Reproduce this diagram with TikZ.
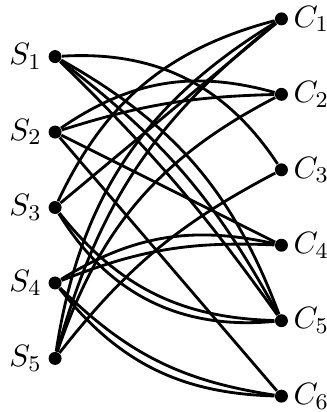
\documentclass[tikz,border=0pt]{standalone}
\usepackage{amsmath}
\usepackage{tikz}

\begin{document}
\begin{tikzpicture}[
  x=0.47cm, y=0.47cm,
  dot/.style={circle, fill=black, inner sep=0pt, minimum size=4.6pt},
  slabel/.style={anchor=east, inner sep=2pt, font=\fontsize{11}{13}\selectfont},
  clabel/.style={anchor=west, inner sep=1.6pt, font=\fontsize{11}{13}\selectfont},
  edge/.style={line width=1pt},
]

\useasboundingbox (-1.46, 0.50) rectangle (7.19, -10.42);

% left side
\node[dot] (s1) at (0, -1) {};
\node[dot] (s2) at (0, -3) {};
\node[dot] (s3) at (0, -5) {};
\node[dot] (s4) at (0, -7) {};
\node[dot] (s5) at (0, -9) {};

% right side
\node[dot] (c1) at (6, 0) {};
\node[dot] (c2) at (6, -2) {};
\node[dot] (c3) at (6, -4) {};
\node[dot] (c4) at (6, -6) {};
\node[dot] (c5) at (6, -8) {};
\node[dot] (c6) at (6, -10) {};

\node[slabel] (ls1) at (s1.west) {$S_1$};
\node[slabel] (ls2) at (s2.west) {$S_2$};
\node[slabel] (ls3) at (s3.west) {$S_3$};
\node[slabel] (ls4) at (s4.west) {$S_4$};
\node[slabel] (ls5) at (s5.west) {$S_5$};

\node[clabel] (lc1) at (c1.east) {$C_1$};
\node[clabel] (lc2) at (c2.east) {$C_2$};
\node[clabel] (lc3) at (c3.east) {$C_3$};
\node[clabel] (lc4) at (c4.east) {$C_4$};
\node[clabel] (lc5) at (c5.east) {$C_5$};
\node[clabel] (lc6) at (c6.east) {$C_6$};

\draw[edge] (s1) to[bend left=30] (c3);
\draw[edge] (s1) to[bend left=5] (c5);
\draw[edge] (s1) to[bend left=12] (c5);
\draw[edge] (s1) to[bend left=20] (c5);
\draw[edge] (s2) to[bend left=25] (c2);
\draw[edge] (s2) to[bend left=8] (c2);
\draw[edge] (s2) -- (c4);
\draw[edge] (s2) -- (c6);
\draw[edge] (s3) to[bend left=25] (c1);
\draw[edge] (s3) -- (c1);
\draw[edge] (s3) to[bend right=25] (c5);
\draw[edge] (s3) to[bend right=32] (c5);
\draw[edge] (s4) to[bend left=22] (c4);
\draw[edge] (s4) to[bend left=12] (c4);
\draw[edge] (s4) to[bend right=18] (c6);
\draw[edge] (s4) to[bend right=25] (c6);
\draw[edge] (s5) to[bend left=25] (c1);
\draw[edge] (s5) to[bend left=18] (c1);
\draw[edge] (s5) to[bend left=22] (c2);
\draw[edge] (s5) to[bend left=12] (c3);

\end{tikzpicture}
\end{document}
